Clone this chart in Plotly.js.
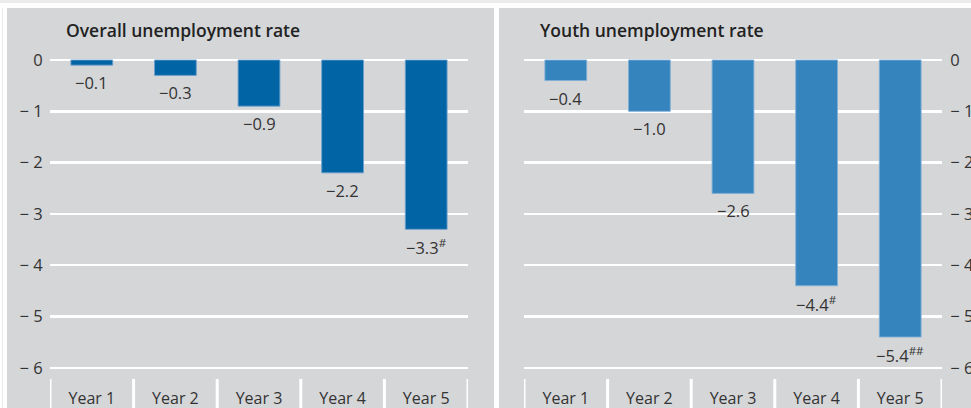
<!DOCTYPE html>
<html>
<head>
<meta charset="utf-8">
<script src="https://cdn.plot.ly/plotly-3.0.1.min.js"></script>
<style>html,body{margin:0;padding:0;background:#fff;}#chart{width:971px;height:408px;}</style>
</head>
<body>
<div id="chart"></div>
<script>
const categories = ["Year 1", "Year 2", "Year 3", "Year 4", "Year 5"];
const overallValues = [-0.1, -0.3, -0.9, -2.2, -3.3];
const overallMarks = ["", "", "", "", "#"];
const youthValues = [-0.4, -1.0, -2.6, -4.4, -5.4];
const youthMarks = ["", "", "", "#", "##"];
const tickVals = [0, -1, -2, -3, -4, -5, -6];
const tickText = ["0", "− 1", "− 2", "− 3", "− 4", "− 5", "− 6"];
const panelTitles = ["Overall unemployment rate", "Youth unemployment rate"];

const W = 971, H = 408;
const FONT = "Open Sans, Noto Sans, sans-serif";
const TXT = "#333333";
const GRID = "#ffffff";
const PANEL = "#d5d6d8";

function fmt(v, mark) {
  const s = "−" + Math.abs(v).toFixed(1);
  return mark ? s + "<sup>" + mark + "</sup>" : s;
}
function px(x) { return x / W; }
function py(y) { return 1 - y / H; }

const yRange = [-6.218, 0.1];
const yDomain = [py(379), py(54.87)];

const traces = [
  {type: "bar", x: categories, y: overallValues, xaxis: "x", yaxis: "y",
   width: 0.5, marker: {color: "#0064a5", line: {color: "rgba(110,160,205,0.9)", width: 1}},
   hoverinfo: "skip", showlegend: false},
  {type: "bar", x: categories, y: youthValues, xaxis: "x2", yaxis: "y2",
   width: 0.5, marker: {color: "#3584bd", line: {color: "rgba(130,175,215,0.9)", width: 1}},
   hoverinfo: "skip", showlegend: false}
];

const annotations = [];
function addLabels(vals, marks, xr, yr) {
  vals.forEach((v, i) => {
    annotations.push({x: categories[i], y: v, xref: xr, yref: yr, text: fmt(v, marks[i]),
      showarrow: false, yanchor: "top", yshift: -4, font: {family: FONT, size: 16.5, color: TXT}});
  });
}
addLabels(overallValues, overallMarks, "x", "y");
addLabels(youthValues, youthMarks, "x2", "y2");
annotations.push({x: px(64), y: py(30), xref: "paper", yref: "paper", xanchor: "left", yanchor: "middle",
  text: panelTitles[0], showarrow: false, font: {family: FONT, size: 17.5, color: "#222", weight: 600}});
annotations.push({x: px(538), y: py(30), xref: "paper", yref: "paper", xanchor: "left", yanchor: "middle",
  text: panelTitles[1], showarrow: false, font: {family: FONT, size: 17.5, color: "#222", weight: 600}});

const shapes = [
  {type: "rect", xref: "paper", yref: "paper", x0: 0, x1: 1, y0: py(3), y1: 1, fillcolor: "#ebebed", line: {width: 0}, layer: "below"},
  {type: "rect", xref: "paper", yref: "paper", x0: px(2), x1: px(3), y0: 0, y1: py(8), fillcolor: "#ebebed", line: {width: 0}, layer: "below"},
  {type: "rect", xref: "paper", yref: "paper", x0: px(7), x1: px(494), y0: 0, y1: py(8), fillcolor: PANEL, line: {width: 0}, layer: "below"},
  {type: "rect", xref: "paper", yref: "paper", x0: px(499), x1: 1, y0: 0, y1: py(8), fillcolor: PANEL, line: {width: 0}, layer: "below"}
];
["x", "x2"].forEach(xr => {
  for (let i = 0; i <= categories.length; i++) {
    shapes.push({type: "line", xref: xr, yref: "paper", x0: i - 0.5, x1: i - 0.5, y0: 0, y1: py(379),
      line: {color: GRID, width: 3}});
  }
});

function yaxis(side, anchor) {
  return {range: yRange, domain: yDomain, anchor: anchor, side: side,
    tickvals: tickVals, ticktext: tickText, showgrid: true, gridcolor: GRID, gridwidth: 2.5,
    zeroline: false, showline: false, ticks: "outside", ticklen: side === "left" ? 3 : 4,
    tickcolor: "rgba(0,0,0,0)", tickfont: {family: FONT, size: 16.5, color: TXT}, fixedrange: true};
}
function xaxis(d, anchor) {
  return {domain: d, anchor: anchor, range: [-0.5, 4.5], type: "category", showgrid: false,
    zeroline: false, showline: false, ticks: "", ticklabelstandoff: 8,
    tickfont: {family: FONT, size: 16, color: TXT, weight: 500}, fixedrange: true};
}

const layout = {
  width: W, height: H, margin: {l: 0, r: 0, t: 0, b: 0},
  paper_bgcolor: "#ffffff", plot_bgcolor: "rgba(0,0,0,0)",
  bargap: 0.5, showlegend: false,
  xaxis: xaxis([px(50), px(468)], "y"),
  yaxis: yaxis("left", "x"),
  xaxis2: xaxis([px(524), px(942)], "y2"),
  yaxis2: yaxis("right", "x2"),
  annotations: annotations, shapes: shapes
};

Plotly.newPlot("chart", traces, layout, {displayModeBar: false, staticPlot: true});
</script>
</body>
</html>
